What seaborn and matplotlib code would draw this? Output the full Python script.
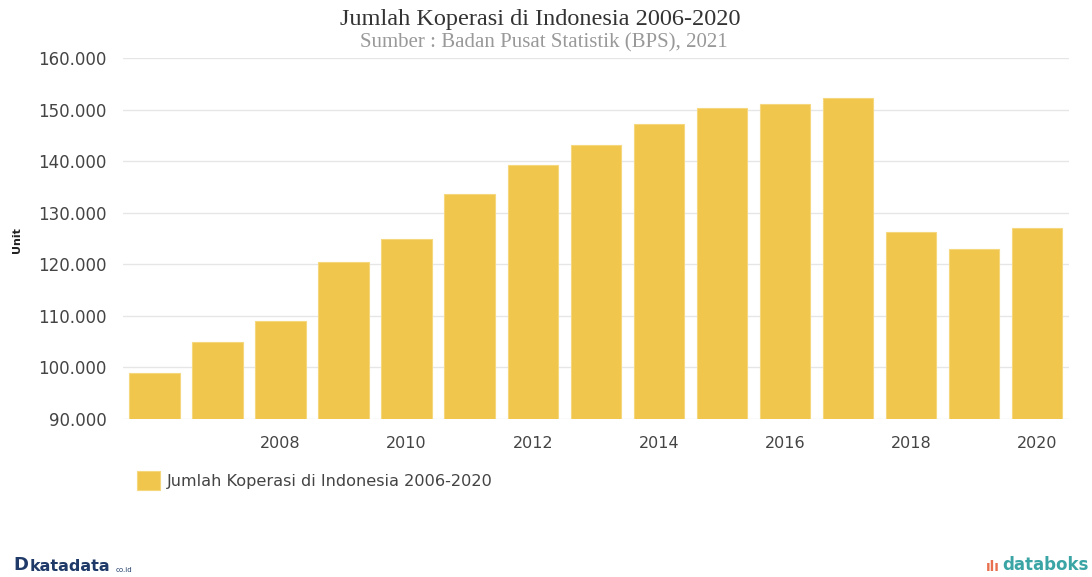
import matplotlib
matplotlib.use("Agg")
import matplotlib.pyplot as plt
import seaborn as sns
import pandas as pd
from matplotlib.ticker import FuncFormatter, MultipleLocator

years = [str(y) for y in range(2006, 2021)]
values = [98944, 104999, 108930, 120473, 124855, 133666, 139321, 143117,
          147249, 150223, 151170, 152174, 126343, 123048, 127124]
shown_ticks = ["2008", "2010", "2012", "2014", "2016", "2018", "2020"]
series_name = "Jumlah Koperasi di Indonesia 2006-2020"
title = "Jumlah Koperasi di Indonesia 2006-2020"
subtitle = "Sumber : Badan Pusat Statistik (BPS), 2021"

df = pd.DataFrame({"year": years, "value": values})

sns.set_theme(style="white")
plt.rcParams["font.family"] = ["DejaVu Sans"]

fig = plt.figure(figsize=(10.92, 5.77), dpi=100)
ax = fig.add_axes([0.1126, 0.2738, 0.866, 0.6257])

bar_color = "#F0C64C"
sns.barplot(data=df, x="year", y="value", color=bar_color, width=0.8,
            saturation=1, edgecolor="#F5D77E", linewidth=0.8,
            label=series_name, ax=ax, zorder=3)

ax.set_ylim(90000, 160000)
ax.set_xlim(-0.5, len(years) - 0.5)
ax.yaxis.set_major_locator(MultipleLocator(10000))
ax.yaxis.set_major_formatter(FuncFormatter(lambda v, p: f"{int(v):,}".replace(",", ".")))
ax.grid(axis="y", color="#E6E6E6", linewidth=1, zorder=0)
ax.set_axisbelow(True)

pos = [years.index(t) for t in shown_ticks]
ax.set_xticks(pos)
ax.set_xticklabels(shown_ticks)
ax.tick_params(axis="both", length=0, labelsize=11.5, colors="#444444")
ax.tick_params(axis="y", labelsize=12, pad=12)
ax.tick_params(axis="x", pad=12)
for s in ax.spines.values():
    s.set_visible(False)

ax.set_xlabel("")
ax.set_ylabel("")
fig.text(0.016, 1 - 240 / 577, "Unit", rotation=90, fontsize=8, fontweight="bold",
         color="#222222", ha="center", va="center")

fig.text(0.495, 0.967, title, ha="center", va="center", fontsize=17.5,
         family="Liberation Serif", color="#333333")
fig.text(0.498, 0.926, subtitle, ha="center", va="center", fontsize=15,
         family="Liberation Serif", color="#999999")

leg = ax.legend(loc="upper left", bbox_to_anchor=(0.12, 0.195),
                bbox_transform=fig.transFigure, frameon=False,
                fontsize=11.6, handlelength=1.4, handleheight=1.4,
                handletextpad=0.4, borderaxespad=0)
for t in leg.get_texts():
    t.set_color("#444444")

fig.text(0.012, 0.005, "D", fontsize=13, fontweight="bold", color="#1F3A68",
         ha="left", va="bottom")
fig.text(0.027, 0.005, "katadata", fontsize=11.5, fontweight="bold", color="#1F3A68",
         ha="left", va="bottom")
fig.text(0.106, 0.007, "co.id", fontsize=5, color="#1F3A68", ha="left", va="bottom")
fig.text(0.903, 0.005, "ılı", fontsize=10, fontweight="bold", color="#E9704E",
         ha="left", va="bottom")
fig.text(0.918, 0.005, "databoks", fontsize=12, fontweight="bold", color="#3BA5A5",
         ha="left", va="bottom")

fig.savefig("out.png", dpi=100)
